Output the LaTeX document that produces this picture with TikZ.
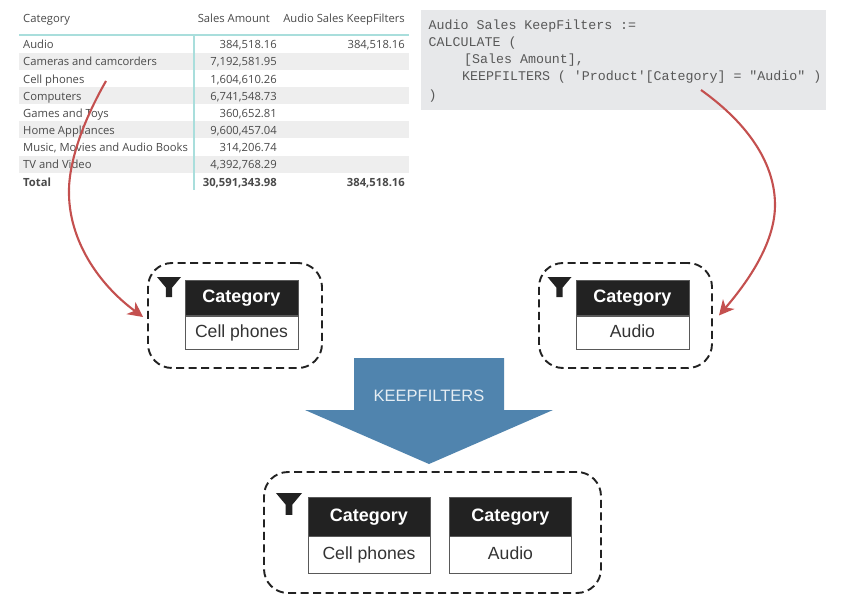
\documentclass[tikz,border=0pt]{standalone}
\usepackage{fontspec}
\setmainfont{Open Sans}
\newfontfamily\boxfont{Liberation Sans}
\newfontfamily\codefont{Liberation Mono}
\definecolor{tabtext}{HTML}{4A4A4A}
\definecolor{stripe}{HTML}{EEEEEE}
\definecolor{tealline}{HTML}{A9DEDC}
\definecolor{codebg}{HTML}{E7E8EA}
\definecolor{codetext}{HTML}{585858}
\definecolor{arrowred}{HTML}{C4504F}
\definecolor{kfblue}{HTML}{5084AE}
\definecolor{darkhead}{HTML}{222222}
\tikzset{
  cellbase/.style={inner sep=0pt,text=tabtext,font=\fontsize{11.25}{13}\selectfont},
  leftcell/.style={cellbase,anchor=mid west},
  rightcell/.style={cellbase,anchor=mid east},
  totalcell/.style={font=\fontsize{11.25}{13}\selectfont\bfseries},
  codeline/.style={inner sep=0pt,anchor=mid west,text=codetext,font=\codefont\fontsize{13.3}{15}\selectfont},
  filterzone/.style={draw=darkhead,line width=1.9pt,dash pattern=on 8pt off 4.5pt,rounded corners=24pt,inner sep=0pt},
  headcell/.style={fill=darkhead,draw=gray!70!black,line width=.8pt,text=white,inner sep=0pt,text height=13pt,text depth=4pt,font=\boxfont\bfseries\fontsize{18}{20}\selectfont},
  valuecell/.style={fill=white,draw=gray!70!black,line width=.8pt,text=black!80,inner sep=0pt,text height=13pt,text depth=4pt,font=\boxfont\fontsize{17.6}{20}\selectfont},
  redarrow/.style={draw=arrowred,line width=2.1pt,-{Stealth[length=15pt,width=15pt,inset=4.5pt]}},
}
\usetikzlibrary{arrows.meta}
\newcommand{\funnelshape}[3]{%
  \fill[darkhead,shift={(#1,#2)},scale=#3] (-12,0) -- (12,0) -- (3.2,10.5) -- (3.2,20) -- (-3.2,20) -- (-3.2,10.5) -- cycle;}
\begin{document}
\begin{tikzpicture}[x=1pt,y=-1pt]
\useasboundingbox (0,0) rectangle (841,607);
\fill[white] (0,0) rectangle (841,607);
% table stripes
\foreach \ya in {52.7,87,121.3,155.6}
  \fill[stripe] (19,\ya) rectangle (408.5,\ya+17);
\draw[tealline,line width=1.2pt] (19,35) -- (408.5,35);
\draw[tealline,line width=1.2pt] (194,35) -- (194,190);
% table header
\node[leftcell] (hcat) at (23,20) {Category};
\node[rightcell] (hsales) at (270,20) {Sales Amount};
\node[rightcell] (hkeep) at (405,20) {Audio Sales KeepFilters};
% table rows
\foreach \nm/\yy/\lab/\val in {
  a/46/Audio/384{,}518.16,
  b/63.2/Cameras and camcorders/7{,}192{,}581.95,
  c/80.4/Cell phones/1{,}604{,}610.26,
  d/97.6/Computers/6{,}741{,}548.73,
  e/114.7/Games and Toys/360{,}652.81,
  f/131.8/Home Appliances/9{,}600{,}457.04,
  g/149/{Music, Movies and Audio Books}/314{,}206.74,
  h/166.2/TV and Video/4{,}392{,}768.29}{
  \node[leftcell] (lab\nm) at (23,\yy) {\lab};
  \node[rightcell] (val\nm) at (277,\yy) {\val};
}
\node[rightcell] (keepa) at (405,46) {384,518.16};
\node[leftcell,totalcell] (labt) at (23,183.6) {Total};
\node[rightcell,totalcell] (valt) at (277,183.6) {30,591,343.98};
\node[rightcell,totalcell] (keept) at (405,183.6) {384,518.16};
% code
\node[fill=codebg,minimum width=405pt,minimum height=100pt,inner sep=0pt,anchor=north west] (codebox) at (421,10) {};
\node[codeline] (c1) at (428.5,27) {Audio Sales KeepFilters :=};
\node[codeline] (c2) at (428.5,44) {CALCULATE (};
\node[codeline] (c3) at (464,61) {[Sales Amount],};
\node[codeline] (c4) at (462,78) {KEEPFILTERS ( 'Product'[Category] = "Audio" )};
\node[codeline] (c5) at (428.5,96.5) {)};
% filter zones
\node[filterzone,minimum width=174pt,minimum height=105pt] (zl) at (235,315.5) {};
\node[filterzone,minimum width=173pt,minimum height=105pt] (zr) at (625.5,315.5) {};
\node[filterzone,minimum width=337pt,minimum height=121pt] (zb) at (432.5,532.5) {};
% left box
\node[headcell,minimum width=113pt,minimum height=35.5pt] (lh) at (241.5,297.7) {Category};
\node[valuecell,minimum width=113pt,minimum height=33.5pt,anchor=north] (lv) at (lh.south) {Cell phones};
% right box
\node[headcell,minimum width=113pt,minimum height=35.5pt] (rh) at (632.5,297.7) {Category};
\node[valuecell,minimum width=113pt,minimum height=33.5pt,anchor=north] (rv) at (rh.south) {Audio};
% bottom boxes
\node[headcell,minimum width=122pt,minimum height=38.5pt] (bh1) at (369,516.7) {Category};
\node[valuecell,minimum width=122pt,minimum height=36.5pt,anchor=north] (bv1) at (bh1.south) {Cell phones};
\node[headcell,minimum width=122pt,minimum height=38.5pt] (bh2) at (510.5,516.7) {Category};
\node[valuecell,minimum width=122pt,minimum height=36.5pt,anchor=north] (bv2) at (bh2.south) {Audio};
% funnels
\funnelshape{169}{277}{1}
\funnelshape{559.5}{277}{1}
\funnelshape{289}{493}{1.09}
% big arrow
\fill[kfblue] (354,358) -- (504,358) -- (504,410) -- (553,410) -- (429,464) -- (305,410) -- (354,410) -- cycle;
\node[inner sep=0pt,text=white!85!kfblue,font=\boxfont\fontsize{16.5}{18}\selectfont] (kf) at (429,396) {KEEPFILTERS};
% red connectors
\coordinate (startl) at (106,81);
\coordinate (startr) at (701,90);
\draw[redarrow] (startl) .. controls (78,130) and (68,170) .. (69,195) .. controls (70,240) and (97,283) .. ([xshift=-4pt,yshift=-1.5pt]zl.west);
\draw[redarrow] (startr) .. controls (750,125) and (775,165) .. (775,205) .. controls (775,245) and (745,285) .. ([xshift=6pt]zr.east);
\end{tikzpicture}
\end{document}
